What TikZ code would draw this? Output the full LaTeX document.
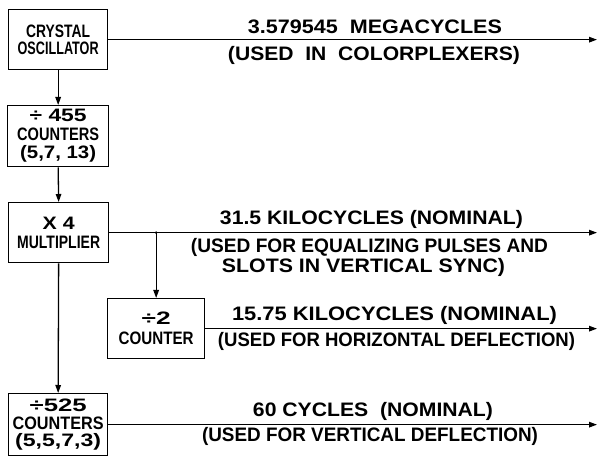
\documentclass[tikz,border=0pt]{standalone}
\usepackage{fontspec}
\setmainfont{Liberation Sans}
\usetikzlibrary{arrows.meta}
\newcommand\fw[2]{\resizebox{#1pt}{\height}{#2}}
\begin{document}
\begin{tikzpicture}[x=1pt,y=-1pt,line width=1.3pt,
  box/.style={draw,line width=1.3pt,inner sep=0pt,anchor=north west,align=center},
  bxf/.style={font=\bfseries\fontsize{18}{#1}\selectfont},
  lbl/.style={font=\bfseries\fontsize{19.5}{19}\selectfont,inner sep=0pt,anchor=base},
  conn/.style={-{Triangle[length=8pt,width=5.5pt]}}]
\useasboundingbox[fill=white] (0,0) rectangle (598,457);
% boxes
\node[box,bxf=17.5,minimum width=99pt,minimum height=60pt] (osc) at (8,9)
  {\fw{64}{CRYSTAL}\\\fw{81}{OSCILLATOR}};
\node[box,bxf=18.5,minimum width=101pt,minimum height=61pt] (c455) at (7,105)
  {\fw{57}{÷ 455}\\\fw{82}{COUNTERS}\\\fw{76}{(5,7, 13)}};
\node[box,bxf=19,minimum width=100pt,minimum height=60pt] (mult) at (8,202)
  {\fw{32}{X 4}\\\fw{83}{MULTIPLIER}};
\node[box,bxf=20,minimum width=97pt,minimum height=60pt] (div2) at (107,298)
  {\fw{29}{÷2}\\\fw{75}{COUNTER}};
\node[box,bxf=17.5,minimum width=99pt,minimum height=62pt] (c525) at (8,393)
  {\fw{57}{÷525}\\\fw{91}{COUNTERS}\\\fw{86}{(5,5,7,3)}};
% free ends
\coordinate (e1) at (597,0);
\coordinate (j) at (mult.east -| div2.north);
\coordinate (jd) at (div2.north);
% connectors
\draw[conn] (osc.south) -- (c455.north);
\draw[conn] (c455.south) -- (mult.north);
\draw[conn] (mult.south) -- (c525.north);
\draw[conn] (osc.east) -- (osc.east -| e1);
\draw[conn] (mult.east) -- (mult.east -| e1);
\draw[conn] (j) -- (jd);
\fill (j) circle (1.4pt);
\draw[conn] (div2.east) -- (div2.east -| e1);
\draw[conn] (c525.east) -- (c525.east -| e1);
% labels
\node[lbl] (t1) at (375,34) {\fw{254}{3.579545\ \ MEGACYCLES}};
\node[lbl] (t2) at (374,61) {\fw{292}{(USED\ \ IN\ \ COLORPLEXERS)}};
\node[lbl] (t3) at (371.5,225) {\fw{303}{31.5 KILOCYCLES (NOMINAL)}};
\node[lbl] (t4) at (369.5,253) {\fw{357}{(USED FOR EQUALIZING PULSES AND}};
\node[lbl] (t5) at (363.5,273) {\fw{283}{SLOTS IN VERTICAL SYNC)}};
\node[lbl] (t6) at (394.5,321) {\fw{325}{15.75 KILOCYCLES (NOMINAL)}};
\node[lbl] (t7) at (396.5,347) {\fw{357}{(USED FOR HORIZONTAL DEFLECTION)}};
\node[lbl] (t8) at (373,417) {\fw{240}{60 CYCLES\ \ (NOMINAL)}};
\node[lbl] (t9) at (370,442) {\fw{336}{(USED FOR VERTICAL DEFLECTION)}};
\end{tikzpicture}
\end{document}
